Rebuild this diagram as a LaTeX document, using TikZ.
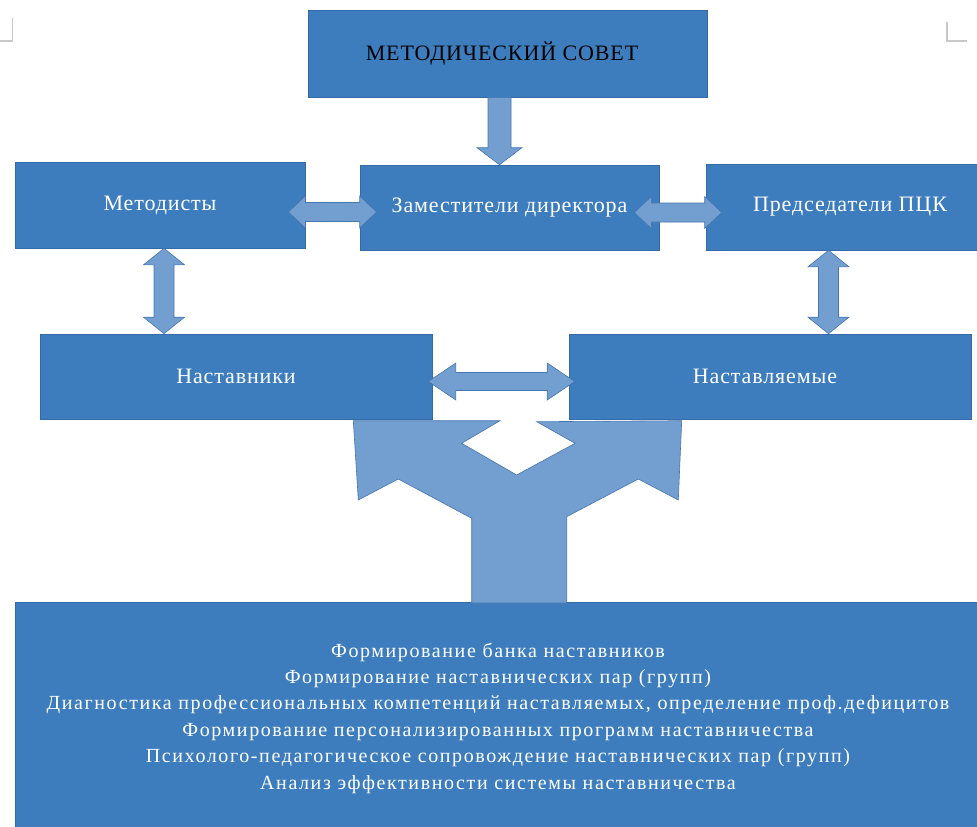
\documentclass[tikz,border=0pt]{standalone}
\usepackage{fontspec}
\setmainfont{Liberation Serif}
\newfontfamily\boxfont[LetterSpace=4]{Liberation Serif}
\newfontfamily\taskfont[LetterSpace=8]{Liberation Serif}
\usetikzlibrary{calc}
\definecolor{boxblue}{RGB}{61,125,190}
\definecolor{boxedge}{RGB}{52,106,166}
\definecolor{arrblue}{RGB}{114,159,207}
\definecolor{arredge}{RGB}{70,118,176}
\definecolor{markgray}{RGB}{200,200,200}
\begin{document}
\begin{tikzpicture}[x=1pt,y=-1pt,
  box/.style={rectangle, draw=boxedge, line width=0.6pt, fill=boxblue, inner sep=0pt,
    text=white, font=\boxfont\fontsize{22}{26}\selectfont},
  fat/.style={draw=arredge, line width=0.6pt, fill=arrblue, line join=miter},
  hdbl/.style n args={3}{to path={let \p1=(\tikztostart), \p2=(\tikztotarget) in
    (\x1,\y1) -- (\x1+#3,\y1+#2) -- (\x1+#3,\y1+#1) -- (\x2-#3,\y1+#1) -- (\x2-#3,\y1+#2)
    -- (\x2,\y1) -- (\x2-#3,\y1-#2) -- (\x2-#3,\y1-#1) -- (\x1+#3,\y1-#1) -- (\x1+#3,\y1-#2) -- cycle}},
  vdbl/.style n args={3}{to path={let \p1=(\tikztostart), \p2=(\tikztotarget) in
    (\x1,\y1) -- (\x1+#2,\y1-#3) -- (\x1+#1,\y1-#3) -- (\x1+#1,\y2+#3) -- (\x1+#2,\y2+#3)
    -- (\x1,\y2) -- (\x1-#2,\y2+#3) -- (\x1-#1,\y2+#3) -- (\x1-#1,\y1-#3) -- (\x1-#2,\y1-#3) -- cycle}},
  vsgl/.style n args={3}{to path={let \p1=(\tikztostart), \p2=(\tikztotarget) in
    (\x1-#1,\y1) -- (\x1+#1,\y1) -- (\x1+#1,\y2+#3) -- (\x1+#2,\y2+#3)
    -- (\x1,\y2) -- (\x1-#2,\y2+#3) -- (\x1-#1,\y2+#3) -- cycle}},
  cornermark/.style={draw=markgray, line width=1.6pt}
]
\useasboundingbox (0,0) rectangle (977,827);

% page corner marks
\draw[cornermark] (0,41) -- (12.5,41) -- (12.5,18);
\draw[cornermark] (947,22) -- (947,41) -- (967,41);

% boxes
\node[box, text=black, minimum width=399pt, minimum height=87pt] (sovet) at (507.5,53.5) {\kern-11pt МЕТОДИЧЕСКИЙ СОВЕТ};
\node[box, minimum width=290pt, minimum height=86pt] (metod) at (160,205) {Методисты};
\node[box, minimum width=299pt, minimum height=85pt] (zam) at (509.5,207.5) {\raisebox{-3pt}{Заместители директора}};
\node[box, minimum width=288pt, minimum height=86pt] (pred) at (850,207) {Председатели ПЦК};
\node[box, minimum width=392pt, minimum height=85pt] (nast) at (236,376.5) {Наставники};
\node[box, minimum width=402pt, minimum height=85pt] (nastv) at (770,376.5) {\kern-10pt Наставляемые};
\node[box, minimum width=966pt, minimum height=232pt, align=center,
  font=\taskfont\fontsize{20}{26.4}\selectfont] (tasks) at (498,718)
  {Формирование банка наставников\\
   Формирование наставнических пар (групп)\\
   Диагностика профессиональных компетенций наставляемых, определение проф.дефицитов\\
   Формирование персонализированных программ наставничества\\
   Психолого-педагогическое сопровождение наставнических пар (групп)\\
   Анализ эффективности системы наставничества};

% block arrows
\draw[fat] ($(sovet.south)+(-8,0)$) to[vsgl={11.5pt}{22.5pt}{17pt}] ($(zam.north)+(-10,0)$);
\draw[fat] ($(metod.east)+(-17,7)$) to[hdbl={9.5pt}{16pt}{17pt}] ($(zam.west)+(17,5)$);
\draw[fat] ($(zam.east)+(-25,5)$) to[hdbl={9.5pt}{16pt}{17pt}] ($(pred.west)+(16,5)$);
\draw[fat] ($(metod.south)+(4,0)$) to[vdbl={10pt}{20.5pt}{16.5pt}] ($(metod.south |- nast.north)+(4,0)$);
\draw[fat] ($(pred.south)+(-21.5,0)$) to[vdbl={10pt}{20.5pt}{16.5pt}] ($(pred.south |- nastv.north)+(-21.5,0)$);
\draw[fat] ($(nast.east)+(-4,5)$) to[hdbl={9pt}{18.5pt}{27.5pt}] ($(nastv.west)+(6,5)$);

% split (Y-shaped) arrow towards the task box
\draw[fat] (353.3,420.7) -- (500,420.7) -- (461.7,443.3) -- (516.7,475) -- (575,443.3)
  -- (536.7,421.7) -- (681.7,420.7) -- (678.3,500) -- (638.3,479) -- (566.7,516.7)
  -- (566.7,603) -- (471.7,603) -- (471.7,518.3) -- (398.3,479) -- (358.3,500) -- cycle;
\end{tikzpicture}
\end{document}
